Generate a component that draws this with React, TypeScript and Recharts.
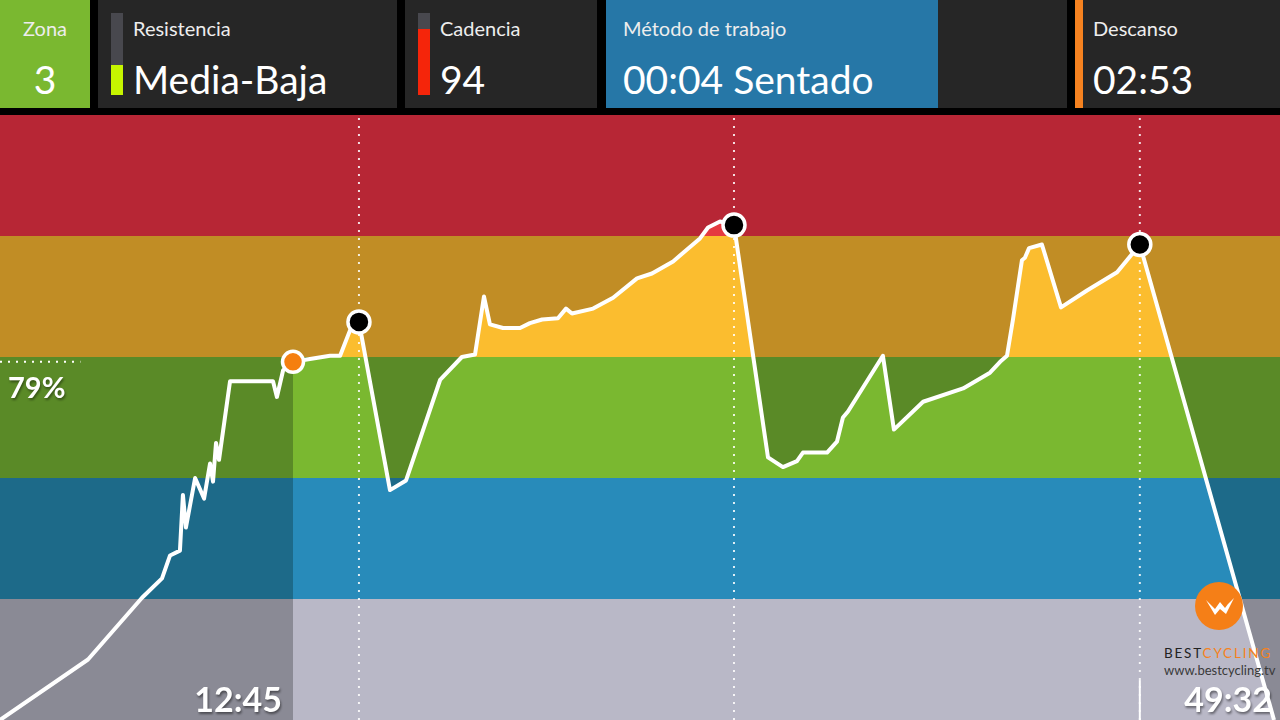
import React from 'react';
import {
  Area,
  ComposedChart,
  Line,
  ReferenceArea,
  ReferenceDot,
  ReferenceLine,
  XAxis,
  YAxis,
} from 'recharts';

// minutes into the session
const minutes = [
  0, 3.83, 6.18, 7.05, 7.4, 7.83, 7.96, 8.09, 8.49, 8.88, 9.14, 9.27, 9.4, 9.53, 10.01, 11.88,
  12.05, 12.32, 12.75, 14.36, 14.8, 15.23, 15.62, 16.97, 17.67, 19.15, 20.1, 20.67, 21.06, 21.32,
  21.89, 22.63, 23.06, 23.59, 24.28, 24.63, 24.89, 25.81, 26.68, 27.72, 28.37, 29.29, 30.46, 30.81,
  31.33, 31.94, 33.42, 34.07, 34.68, 34.94, 35.99, 36.42, 36.68, 36.9, 38.42, 38.9, 40.17, 41.91,
  43.08, 43.52, 43.82, 44.08, 44.47, 44.6, 44.78, 45.34, 46.17, 47.3, 48.61, 49.3, 49.6, 55.44,
];
// effort in zone units (0 = bottom of zone 1, 5 = top of zone 5)
const effort = [
  0, 0.5, 1.01, 1.17, 1.36, 1.4, 1.86, 1.59, 2.0, 1.83, 2.12, 1.97, 2.29, 2.15, 2.8, 2.8,
  2.67, 2.89, 2.96, 3.01, 3.01, 3.22, 3.29, 1.9, 1.98, 2.81, 3.0, 3.02, 3.5, 3.27,
  3.24, 3.24, 3.28, 3.31, 3.32, 3.4, 3.36, 3.4, 3.49, 3.65, 3.69, 3.79, 3.98, 4.07,
  4.12, 4.09, 2.17, 2.09, 2.14, 2.21, 2.21, 2.3, 2.5, 2.55, 3.01, 2.4, 2.63, 2.74,
  2.87, 2.96, 3.01, 3.31, 3.8, 3.82, 3.9, 3.93, 3.41, 3.55, 3.7, 3.86, 3.93, 0,
];

const ELAPSED = 12.75; // 12:45
const ELAPSED_LEVEL = 2.96;
const ELAPSED_LABEL = '12:45';
const MARK_TIME = 49.6; // 49:32 marker
const MARK_LABEL = '49:32';
const LEVEL_LABEL = '79%';

const peakTimes = [15.62, 31.94, 49.6];
const peakValues = [3.29, 4.09, 3.93];

const zoneEdges = [0, 1, 2, 3, 4, 5];
const zoneDark = ['#8A8A95', '#1D6A89', '#5A8A27', '#C18D25', '#B72635'];
const zoneBright = ['#B9B8C7', '#288BBA', '#7AB830', '#FBBD2F', '#E53A40'];

const CHART_W = 1280;
const CHART_H = 605;

const data = minutes.map((t, i) => ({
  t,
  v: effort[i],
  fill: t >= ELAPSED ? effort[i] : null,
}));

const bigTime = {
  fill: '#fff',
  fontSize: 34,
  fontWeight: 700,
  fontFamily: 'Lato',
  style: { filter: 'drop-shadow(1px 2px 1px rgba(0,0,0,0.45))' },
} as const;

function Panel({
  left,
  width,
  bg,
  label,
  value,
  textLeft,
  center,
}: {
  left: number;
  width: number;
  bg: string;
  label: string;
  value: string;
  textLeft?: number;
  center?: boolean;
}) {
  return (
    <div style={{ position: 'absolute', left, top: 0, width, height: 108, background: bg }}>
      <div
        style={{
          position: 'absolute',
          left: center ? 0 : textLeft,
          width: center ? width : undefined,
          textAlign: center ? 'center' : 'left',
          top: 15,
          fontSize: 20,
          color: '#EDEDED',
          lineHeight: '26px',
          whiteSpace: 'nowrap',
        }}
      >
        {label}
      </div>
      <div
        style={{
          position: 'absolute',
          left: center ? 0 : textLeft,
          width: center ? width : undefined,
          textAlign: center ? 'center' : 'left',
          top: 55,
          fontSize: 39,
          color: '#fff',
          lineHeight: '48px',
          whiteSpace: 'nowrap',
        }}
      >
        {value}
      </div>
    </div>
  );
}

function Header() {
  return (
    <>
      <Panel left={0} width={90} bg="#7AB830" label="Zona" value="3" center />
      <Panel left={98} width={299} bg="#262626" label="Resistencia" value="Media-Baja" textLeft={35} />
      <div style={{ position: 'absolute', left: 111, top: 13, width: 12, height: 52, background: '#48484E' }} />
      <div style={{ position: 'absolute', left: 111, top: 65, width: 12, height: 30, background: '#C6F500' }} />
      <Panel left={405} width={192} bg="#262626" label="Cadencia" value="94" textLeft={35} />
      <div style={{ position: 'absolute', left: 418, top: 13, width: 12, height: 16, background: '#48484E' }} />
      <div style={{ position: 'absolute', left: 418, top: 29, width: 12, height: 66, background: '#F5250A' }} />
      <div style={{ position: 'absolute', left: 938, top: 0, width: 129, height: 108, background: '#262626' }} />
      <Panel left={606} width={332} bg="#2677A7" label="Método de trabajo" value="00:04 Sentado" textLeft={17} />
      <Panel left={1075} width={205} bg="#262626" label="Descanso" value="02:53" textLeft={18} />
      <div style={{ position: 'absolute', left: 1075, top: 0, width: 8, height: 108, background: '#F58220' }} />
    </>
  );
}

function Logo() {
  return (
    <>
      <svg
        width={48}
        height={48}
        style={{ position: 'absolute', left: 1195, top: 582 }}
        viewBox="0 0 48 48"
      >
        <circle cx={24} cy={24} r={24} fill="#F57F17" />
        <polygon points="11,18 20,33 25,27 31,32 39,16 33,22 30,26 25,20 20,27" fill="#fff" />
      </svg>
      <div
        style={{
          position: 'absolute',
          left: 1164,
          top: 645,
          fontSize: 13.5,
          letterSpacing: 1.8,
          fontFamily: 'Lato',
          lineHeight: '16px',
        }}
      >
        <span style={{ color: '#222' }}>BEST</span>
        <span style={{ color: '#F58220' }}>CYCLING</span>
      </div>
      <div
        style={{
          position: 'absolute',
          left: 1164,
          top: 662,
          fontSize: 13,
          color: '#3A3A3A',
          fontFamily: 'Lato',
          lineHeight: '16px',
        }}
      >
        www.bestcycling.tv
      </div>
    </>
  );
}

function EffortChart() {
  return (
    <ComposedChart width={CHART_W} height={CHART_H} data={data} margin={{ top: 0, right: 0, bottom: 0, left: 0 }}>
      <defs>
        <linearGradient id="zoneFill" gradientUnits="userSpaceOnUse" x1={0} y1={0} x2={0} y2={CHART_H}>
          {zoneBright
            .slice()
            .reverse()
            .flatMap((c, i) => [
              <stop key={`a${i}`} offset={i / 5} stopColor={c} />,
              <stop key={`b${i}`} offset={(i + 1) / 5} stopColor={c} />,
            ])}
        </linearGradient>
      </defs>
      <XAxis type="number" dataKey="t" domain={[0, 55.7]} hide allowDataOverflow />
      <YAxis type="number" domain={[0, 5]} hide allowDataOverflow />
      {zoneDark.map((c, i) => (
        <ReferenceArea
          key={c}
          y1={zoneEdges[i]}
          y2={zoneEdges[i + 1]}
          fill={c}
          fillOpacity={1}
          stroke="none"
          zIndex={-60}
        />
      ))}
      <Area
        dataKey="fill"
        type="linear"
        stroke="none"
        fill="url(#zoneFill)"
        fillOpacity={1}
        baseValue={0}
        isAnimationActive={false}
      />
      {peakTimes.map((t) => (
        <ReferenceLine
          key={t}
          x={t}
          stroke="#fff"
          strokeOpacity={0.85}
          strokeWidth={2}
          strokeDasharray="2 6"
        />
      ))}
      <ReferenceLine
        x={ELAPSED}
        stroke="none"
        label={(p: any) => (
          <text {...bigTime} x={p.viewBox.x - 11} y={p.viewBox.y + p.viewBox.height - 8} textAnchor="end">
            {ELAPSED_LABEL}
          </text>
        )}
      />
      <ReferenceLine
        segment={[
          { x: MARK_TIME, y: 0 },
          { x: MARK_TIME, y: 0.33 },
        ]}
        stroke="#fff"
        strokeWidth={2}
      />
      <ReferenceLine
        x={MARK_TIME}
        stroke="none"
        label={(p: any) => (
          <text {...bigTime} x={CHART_W - 8} y={p.viewBox.y + p.viewBox.height - 8} textAnchor="end">
            {MARK_LABEL}
          </text>
        )}
      />
      <ReferenceLine
        segment={[
          { x: 0, y: ELAPSED_LEVEL },
          { x: 3.5, y: ELAPSED_LEVEL },
        ]}
        stroke="#fff"
        strokeWidth={2}
        strokeDasharray="2 6"
      />
      <ReferenceLine
        y={ELAPSED_LEVEL}
        stroke="none"
        label={(p: any) => (
          <text
            x={p.viewBox.x + 8}
            y={p.viewBox.y + 36}
            fill="#fff"
            fontSize={29}
            fontWeight={700}
            fontFamily="Lato"
            style={{ filter: 'drop-shadow(1px 2px 1px rgba(0,0,0,0.4))' }}
          >
            {LEVEL_LABEL}
          </text>
        )}
      />
      <Line
        dataKey="v"
        type="linear"
        stroke="#fff"
        strokeWidth={4}
        strokeLinejoin="round"
        dot={false}
        isAnimationActive={false}
      />
      <ReferenceDot
        x={ELAPSED}
        y={ELAPSED_LEVEL}
        r={10.5}
        fill="#F57F0F"
        stroke="#fff"
        strokeWidth={3.5}
      />
      {peakTimes.map((t, i) => (
        <ReferenceDot key={t} x={t} y={peakValues[i]} r={11} fill="#000" stroke="#fff" strokeWidth={3.5} />
      ))}
    </ComposedChart>
  );
}

export default function App() {
  return (
    <div
      style={{
        position: 'absolute',
        left: 0,
        top: 0,
        width: 1280,
        height: 720,
        background: '#000',
        overflow: 'hidden',
        fontFamily: 'Lato',
      }}
    >
      <Header />
      <div style={{ position: 'absolute', left: 0, top: 115 }}>
        <EffortChart />
      </div>
      <Logo />
    </div>
  );
}
